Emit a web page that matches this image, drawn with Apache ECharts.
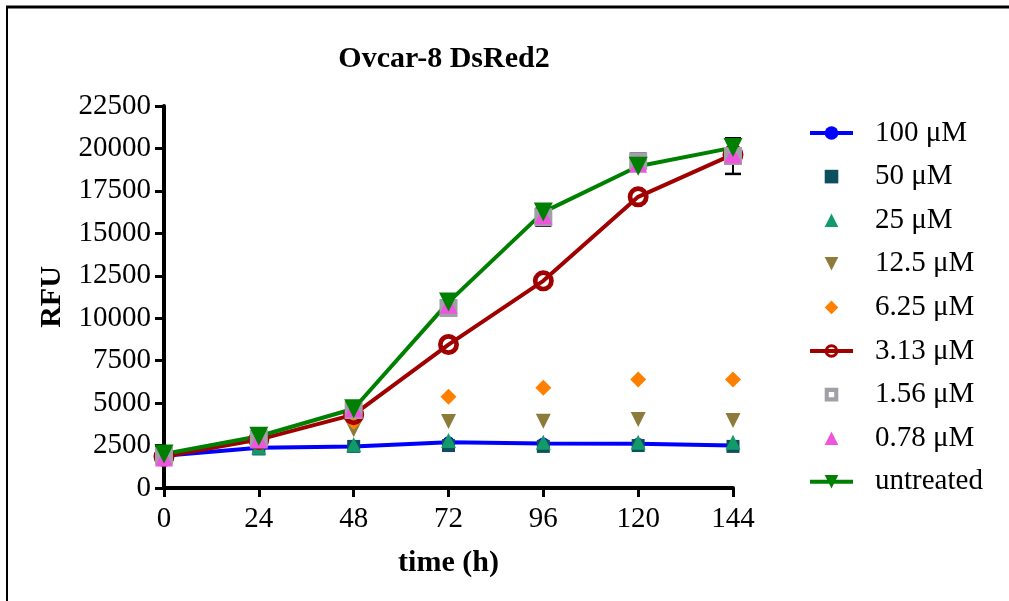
<!DOCTYPE html>
<html>
<head>
<meta charset="utf-8">
<script src="https://cdn.jsdelivr.net/npm/echarts@6/dist/echarts.min.js"></script>
<style>
  html, body { margin: 0; padding: 0; background: #fff; }
  #chart { width: 1009px; height: 601px; }
</style>
</head>
<body>
<div id="chart"></div>
<script>
// time points (h)
var times = [0, 24, 48, 72, 96, 120, 144];
var xTicks = [0, 24, 48, 72, 96, 120, 144];
var yTicks = [0, 2500, 5000, 7500, 10000, 12500, 15000, 17500, 20000, 22500];

// RFU per concentration
var c100 = [1900, 2370, 2450, 2700, 2620, 2600, 2500];
var c50 = [1900, 2300, 2450, 2500, 2450, 2500, 2450];
var c25 = [1950, 2400, 2550, 2800, 2700, 2700, 2700];
var c12_5 = [1900, 2700, 3430, 3920, 3930, 4030, 3970];
var c6_25 = [1900, 2850, 3900, 5370, 5900, 6390, 6390];
var c3_13 = [1850, 2850, 4320, 8450, 12200, 17150, 19650];
var c1_56 = [1900, 2900, 4600, 10600, 15950, 19250, 19550];
var c1_56err = [0, 0, 0, 0, 500, 450, 1050];
var c0_78 = [1800, 2850, 4700, 10800, 16050, 19100, 19650];
var untreated = [2000, 3050, 4670, 10950, 16250, 18950, 20050];

var font = 'Liberation Serif';
var chart = echarts.init(document.getElementById('chart'));

function pts(arr) {
	return times.map(function (t, i) { return [t, arr[i]]; });
}

var ringPath = 'path://M10,0A10,10 0 1,1 10,20A10,10 0 1,1 10,0ZM10,4.5A5.5,5.5 0 1,0 10,15.5A5.5,5.5 0 1,0 10,4.5Z';
var sqRingPath = 'path://M0,0L20,0L20,20L0,20ZM6,6L6,14L14,14L14,6Z';
var triDown = 'path://M0,0L20,0L10,17Z';

function lineSeries(name, arr, color, symbol, size) {
	return {
		name: name, type: 'line', data: pts(arr),
		symbol: symbol, symbolSize: size,
		lineStyle: { color: color, width: 4 },
		itemStyle: { color: color },
		emphasis: { disabled: true },
		animation: false
	};
}
function dotSeries(name, arr, color, symbol, size) {
	return {
		name: name, type: 'line', data: pts(arr),
		symbol: symbol, symbolSize: size,
		lineStyle: { width: 0, opacity: 0 },
		itemStyle: { color: color },
		emphasis: { disabled: true },
		animation: false
	};
}

var errData = times.map(function (t, i) { return [t, c1_56[i], c1_56err[i]]; });

chart.setOption({
	backgroundColor: '#fff',
	animation: false,
	title: {
		text: 'Ovcar-8 DsRed2',
		left: 439, top: 39, textAlign: 'center',
		textStyle: { fontFamily: font, fontWeight: 'bold', fontSize: 30, color: '#000' }
	},
	graphic: [
		{ type: 'line', shape: { x1: 6, y1: 7, x2: 1009, y2: 7 }, style: { stroke: '#000', lineWidth: 3 } },
		{ type: 'line', shape: { x1: 7, y1: 6, x2: 7, y2: 601 }, style: { stroke: '#000', lineWidth: 2 } }
	],
	grid: { left: 164, right: 276, top: 106, bottom: 113 },
	legend: {
		orient: 'vertical',
		left: 808, top: 118, padding: 0,
		itemWidth: 43, itemHeight: 17,
		itemGap: 13.6,
		selectedMode: false,
		lineStyle: { width: 4 },
		textStyle: { fontFamily: font, fontSize: 29, color: '#000', lineHeight: 30, padding: [0, 0, 0, 17] },
		data: ['100 μM', '50 μM', '25 μM', '12.5 μM', '6.25 μM', '3.13 μM', '1.56 μM', '0.78 μM', 'untreated']
	},
	xAxis: {
		type: 'value', min: 0, max: 144, interval: 24,
		name: 'time (h)', nameLocation: 'middle', nameGap: 60,
		nameTextStyle: { fontFamily: font, fontWeight: 'bold', fontSize: 30, color: '#000' },
		axisLine: { lineStyle: { color: '#000', width: 4 } },
		axisTick: { length: 9, lineStyle: { color: '#000', width: 3 } },
		axisLabel: { fontFamily: font, fontSize: 29, color: '#000', margin: 17,
			customValues: xTicks },
		splitLine: { show: false }
	},
	yAxis: {
		type: 'value', min: 0, max: 22500, interval: 2500,
		name: 'RFU', nameLocation: 'middle', nameGap: 96,
		nameTextStyle: { fontFamily: font, fontWeight: 'bold', fontSize: 30, color: '#000' },
		axisLine: { lineStyle: { color: '#000', width: 4 } },
		axisTick: { length: 9, lineStyle: { color: '#000', width: 3 } },
		axisLabel: { fontFamily: font, fontSize: 29, color: '#000', margin: 13,
			customValues: yTicks,
			formatter: function (v) { return String(v); } },
		splitLine: { show: false }
	},
	series: [
		{
			name: 'err', type: 'custom', data: errData, z: 1,
			renderItem: function (params, api) {
				var x = api.value(0), y = api.value(1), e = api.value(2);
				if (!e) return null;
				var top = api.coord([x, y + e]);
				var bot = api.coord([x, y - e]);
				var w = 8;
				return {
					type: 'group',
					children: [
						{ type: 'line', shape: { x1: top[0], y1: top[1], x2: bot[0], y2: bot[1] }, style: { stroke: '#000', lineWidth: 2 } },
						{ type: 'line', shape: { x1: top[0] - w, y1: top[1], x2: top[0] + w, y2: top[1] }, style: { stroke: '#000', lineWidth: 2.5 } },
						{ type: 'line', shape: { x1: bot[0] - w, y1: bot[1], x2: bot[0] + w, y2: bot[1] }, style: { stroke: '#000', lineWidth: 2.5 } }
					]
				};
			},
			animation: false
		},
		lineSeries('100 μM', c100, '#0000ff', 'circle', 12),
		dotSeries('50 μM', c50, '#0d4f5f', 'rect', 13),
		dotSeries('25 μM', c25, '#139a6b', 'triangle', 15),
		dotSeries('12.5 μM', c12_5, '#8c7b3b', triDown, 15),
		dotSeries('6.25 μM', c6_25, '#ff8000', 'diamond', 16),
		lineSeries('3.13 μM', c3_13, '#a00000', ringPath, 21),
		dotSeries('1.56 μM', c1_56, '#a0a0a8', sqRingPath, 18),
		dotSeries('0.78 μM', c0_78, '#ee55dd', 'triangle', 18),
		lineSeries('untreated', untreated, '#008000', triDown, 19)
	]
});
</script>
</body>
</html>
